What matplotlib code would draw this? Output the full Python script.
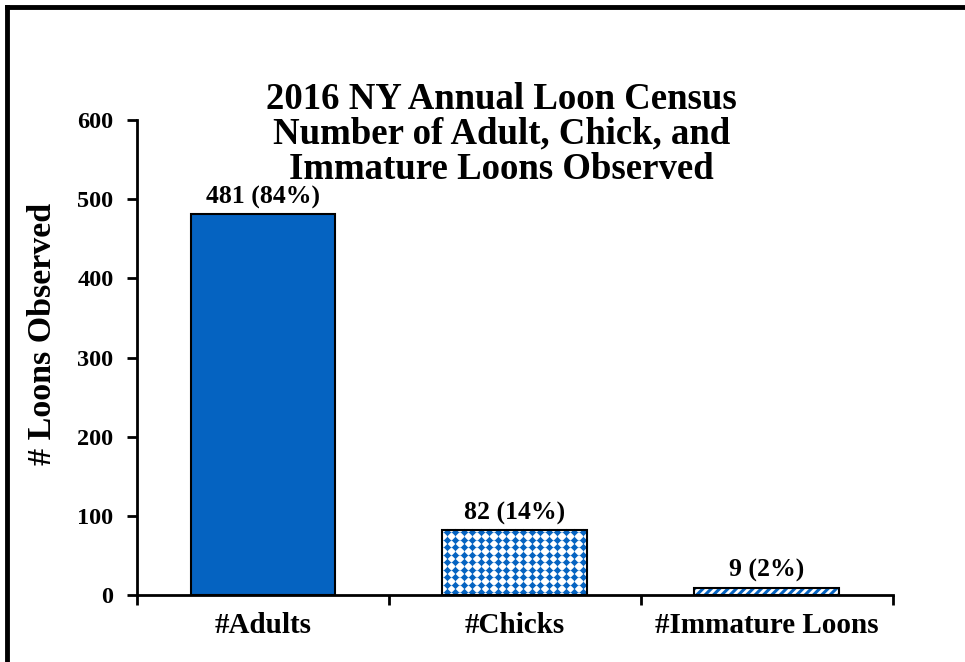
import matplotlib
matplotlib.use("Agg")
import matplotlib.pyplot as plt
import numpy as np
from matplotlib.lines import Line2D

categories = ["#Adults", "#Chicks", "#Immature Loons"]
counts = [481, 82, 9]
percents = [84, 14, 2]
yticks = [0, 100, 200, 300, 400, 500, 600]

BLUE = "#0563C1"
plt.rcParams["font.family"] = ["Liberation Serif", "DejaVu Serif"]
plt.rcParams["font.weight"] = "bold"

fig = plt.figure(figsize=(9.65, 6.62), dpi=100)
ax = fig.add_axes([0.142, 0.1012, 0.783, 0.7175])

x = list(range(len(categories)))
width = 0.575
# fills: solid / diamond dots / stripes
ax.bar(x[0], counts[0], width, color=BLUE, linewidth=0)
dots = ax.bar(x[1], counts[1], width, facecolor="white", linewidth=0)[0]
with plt.rc_context({"hatch.linewidth": 2.2}):
    ax.bar(x[2], counts[2], width, facecolor="white", edgecolor=BLUE, hatch="////", linewidth=0)

# diamond-dot texture inside the chicks bar (about 8.5 px by 7.5 px grid)
bx0, bw, bh = dots.get_x(), dots.get_width(), dots.get_height()
gx = np.arange(bx0 + bw / 34, bx0 + bw, bw / 17)
gy = np.arange(bh / 22, bh, bh / 8.7)
GX, GY = np.meshgrid(gx, gy)
for yy in gy:
    ax.plot([bx0, bx0 + bw], [yy, yy], color="#9dc3ea", lw=0.8, clip_path=dots, zorder=2)
for xx in gx:
    ax.plot([xx, xx], [0, bh], color="#9dc3ea", lw=0.8, clip_path=dots, zorder=2)
ax.scatter(GX.ravel(), GY.ravel(), marker="D", s=14, color=BLUE, linewidths=0,
           clip_path=dots, zorder=2)

# outlines
ax.bar(x, counts, width, facecolor="none", edgecolor="black", linewidth=1.5, zorder=3)

for xi, c, p in zip(x, counts, percents):
    ax.annotate(f"{c} ({p}%)", (xi, c), xytext=(0, 4), textcoords="offset points",
                ha="center", va="bottom", fontsize=18.5, fontweight="bold")

ax.set_xlim(-0.5, 2.5)
ax.set_ylim(0, 600)
ax.set_yticks(yticks)
ax.set_xticks(x)
ax.set_xticklabels(categories)
ax.set_xticks([-0.5, 0.5, 1.5, 2.5], minor=True)
ax.tick_params(axis="x", which="major", length=0, pad=12, labelsize=21)
ax.tick_params(axis="x", which="minor", length=7, width=2, direction="out")
ax.tick_params(axis="y", length=7, width=2, direction="out", labelsize=17.5, pad=10)
for lab in ax.get_xticklabels() + ax.get_yticklabels():
    lab.set_fontweight("bold")

for s in ["top", "right"]:
    ax.spines[s].set_visible(False)
for s in ["left", "bottom"]:
    ax.spines[s].set_linewidth(2)

ax.set_ylabel("# Loons Observed", fontsize=24.5, fontweight="bold")
ax.yaxis.set_label_coords(-0.1045, 0.549)

fig.text(0.52, 0.797, "2016 NY Annual Loon Census\nNumber of Adult, Chick, and\nImmature Loons Observed",
         ha="center", va="center", fontsize=26.5, fontweight="bold", linespacing=1.0)

# outer frame (top and left edges visible)
fig.add_artist(Line2D([7 / 965, 1.0], [1 - 7 / 662, 1 - 7 / 662], color="black", lw=3.5,
                      transform=fig.transFigure))
fig.add_artist(Line2D([7 / 965, 7 / 965], [0, 1 - 7 / 662], color="black", lw=3.5,
                      transform=fig.transFigure))

fig.savefig("out.png", dpi=100)
